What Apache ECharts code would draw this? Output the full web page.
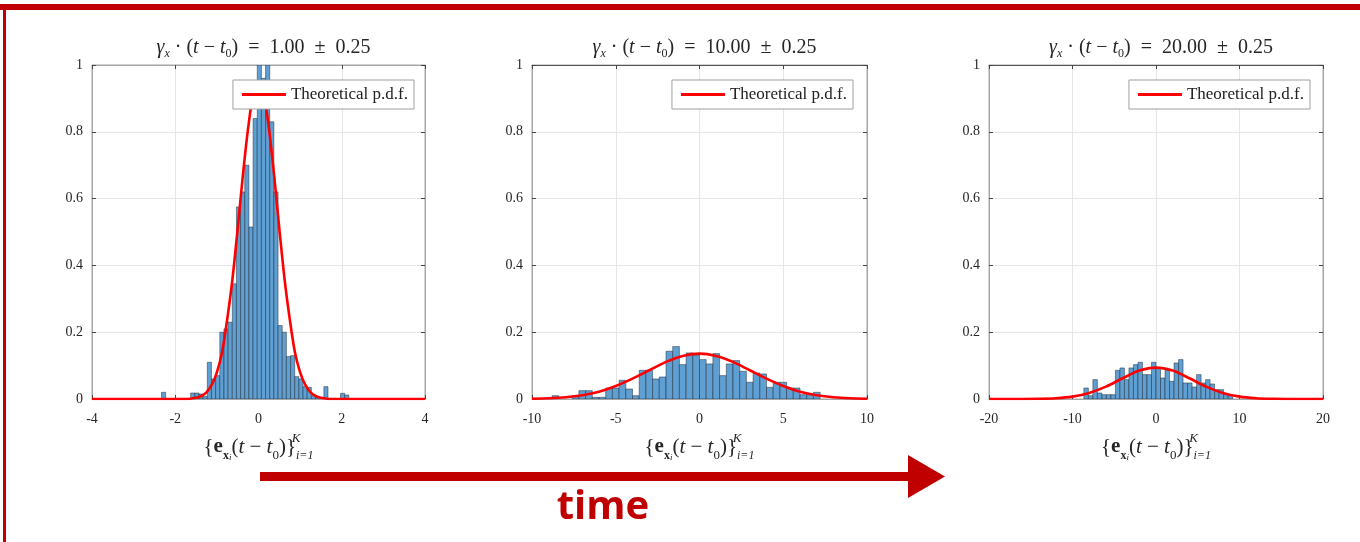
<!DOCTYPE html>
<html>
<head>
<meta charset="utf-8">
<script src="https://cdn.jsdelivr.net/npm/echarts@6/dist/echarts.min.js"></script>
<style>
html,body{margin:0;padding:0;background:#fff;}
#chart{width:1360px;height:542px;}
</style>
</head>
<body>
<div id="chart"></div>
<script>
// ---------- data ----------
const titleValues = ['1.00', '10.00', '20.00'];
const titleSpread = '0.25';
const legendName = 'Theoretical p.d.f.';

// panel 1 histogram (bin start, bin width, heights)
const hist1Start = -2.33;
const hist1Width = 0.1;
const hist1Heights = [0.02,0,0,0,0,0,0,0.018,0.018,0.015,0.008,0.11,0.06,0.07,0.20,0.21,0.23,0.345,0.575,0.62,0.70,0.515,0.84,1.15,0.96,1.12,0.83,0.62,0.22,0.20,0.127,0.13,0.067,0.06,0.037,0.035,0.01,0.005,0,0.037,0,0,0,0.017,0.012];
// panel 2 histogram
const hist2Start = -8.8;
const hist2Width = 0.4;
const hist2Heights = [0.01,0,0,0.01,0.025,0.025,0.005,0.005,0.033,0.033,0.056,0.03,0.01,0.086,0.086,0.06,0.066,0.143,0.157,0.103,0.138,0.132,0.118,0.105,0.136,0.07,0.105,0.115,0.083,0.05,0.078,0.075,0.035,0.05,0.05,0.033,0.033,0.013,0.013,0.02];
// panel 3 histogram
const hist3Start = -13.5;
const hist3Width = 0.54;
const hist3Heights = [0.003,0,0,0,0,0,0,0,0,0.033,0.01,0.058,0.018,0.013,0.013,0.013,0.086,0.093,0.058,0.093,0.103,0.11,0.073,0.073,0.11,0.093,0.063,0.088,0.053,0.108,0.118,0.048,0.048,0.036,0.073,0.048,0.058,0.045,0.028,0.028,0.015,0.01];

// theoretical p.d.f. curves
const pdf1X = [-4,-2,-1.75,-1.5,-1.375,-1.25,-1.125,-1,-0.875,-0.75,-0.625,-0.5,-0.375,-0.25,-0.125,0,0.125,0.25,0.375,0.5,0.625,0.75,0.875,1,1.125,1.25,1.375,1.5,1.75,2,4];
const pdf1Y = [0,0,0,0.004,0.009,0.02,0.042,0.08,0.14,0.24,0.36,0.51,0.67,0.81,0.914,0.95,0.914,0.81,0.67,0.51,0.36,0.24,0.14,0.08,0.042,0.02,0.009,0.004,0,0,0];
const pdf2X = [-10,-9,-8,-7,-6,-5,-4,-3,-2,-1,0,1,2,3,4,5,6,7,8,9,10];
const pdf2Y = [0.0009,0.0023,0.0054,0.0115,0.022,0.039,0.061,0.086,0.111,0.129,0.136,0.129,0.111,0.086,0.061,0.039,0.022,0.0115,0.0054,0.0023,0.0009];
const pdf3X = [-20,-18,-16,-14,-12,-10,-8,-6,-4,-2,0,2,4,6,8,10,12,14,16,18,20];
const pdf3Y = [0,0,0.0001,0.0006,0.0023,0.0071,0.018,0.037,0.062,0.085,0.094,0.085,0.062,0.037,0.018,0.0071,0.0023,0.0006,0.0001,0,0];

// axes
const xMins = [-4, -10, -20];
const xMaxs = [4, 10, 20];
const xIntervals = [2, 5, 10];
const yMin = 0, yMax = 1, yInterval = 0.2;

// ---------- build ----------
const hists = [
  [hist1Start, hist1Width, hist1Heights],
  [hist2Start, hist2Width, hist2Heights],
  [hist3Start, hist3Width, hist3Heights]
];
const pdfs = [[pdf1X, pdf1Y], [pdf2X, pdf2Y], [pdf3X, pdf3Y]];

const gridLefts = [92, 532, 989];
const gridWidths = [333, 335, 334];
const legendRights = [946, 507, 50];

const serif = 'Liberation Serif';
const textCol = '#262626';

function renderBar(params, api) {
  const x0 = api.value(0), x1 = api.value(1);
  const h = Math.min(api.value(2), yMax);
  if (h <= 0) return null;
  const p0 = api.coord([x0, h]);
  const p1 = api.coord([x1, 0]);
  return {
    type: 'rect',
    shape: {x: p0[0], y: p0[1], width: p1[0] - p0[0], height: p1[1] - p0[1]},
    style: {fill: '#5f9fd2', stroke: 'rgba(20,30,40,0.75)', lineWidth: 0.6}
  };
}

const grids = [], xAxes = [], yAxes = [], series = [], titles = [], legends = [];
const tf = {fontFamily: serif, color: textCol, fontWeight: 'normal'};
const titleRich = {
  n: Object.assign({fontSize: 20, lineHeight: 24}, tf),
  i: Object.assign({fontSize: 20, fontStyle: 'italic', lineHeight: 24}, tf),
  si: Object.assign({fontSize: 12, fontStyle: 'italic', lineHeight: 15, verticalAlign: 'bottom'}, tf),
  s: Object.assign({fontSize: 12, lineHeight: 15, verticalAlign: 'bottom'}, tf)
};
const nameRich = {
  n: Object.assign({fontSize: 21, lineHeight: 30}, tf),
  i: Object.assign({fontSize: 21, fontStyle: 'italic', lineHeight: 30}, tf),
  b: {fontFamily: serif, color: textCol, fontSize: 21, fontWeight: 'bold', lineHeight: 30},
  sb: {fontFamily: serif, color: textCol, fontSize: 12, fontWeight: 'bold', lineHeight: 20, verticalAlign: 'bottom'},
  ss: Object.assign({fontSize: 9, fontStyle: 'italic', lineHeight: 15, verticalAlign: 'bottom'}, tf),
  s: Object.assign({fontSize: 13, lineHeight: 20, verticalAlign: 'bottom'}, tf),
  sup: Object.assign({fontSize: 13, fontStyle: 'italic', lineHeight: 16, verticalAlign: 'top', width: 0}, tf),
  low: Object.assign({fontSize: 12, fontStyle: 'italic', lineHeight: 14, verticalAlign: 'bottom'}, tf)
};

const tickStyle = {show: true, inside: true, length: 4, lineStyle: {color: '#444'}};
for (let k = 0; k < 3; k++) {
  grids.push({left: gridLefts[k], top: 65, width: gridWidths[k], height: 334,
    show: true, borderColor: '#a6a6a6', borderWidth: 1});
  xAxes.push({
    type: 'value', gridIndex: k, min: xMins[k], max: xMaxs[k], interval: xIntervals[k],
    axisLine: {show: true, onZero: false, lineStyle: {color: '#a6a6a6'}},
    axisTick: tickStyle,
    splitLine: {show: true, lineStyle: {color: '#e6e6e6'}},
    axisLabel: {fontFamily: serif, fontSize: 14, color: textCol, margin: 13},
    name: '{n|{}{b|e}{sb|x}{ss|i}{n|(}{i|t}{n| − }{i|t}{s|0}{n|)}}{sup|K}{low|i=1}',
    nameLocation: 'middle', nameGap: 33,
    nameTextStyle: Object.assign({fontSize: 21, rich: nameRich}, tf)
  });
  yAxes.push({
    type: 'value', gridIndex: k, min: yMin, max: yMax, interval: yInterval,
    axisLine: {show: true, onZero: false, lineStyle: {color: '#a6a6a6'}},
    axisTick: tickStyle,
    splitLine: {show: true, lineStyle: {color: '#e6e6e6'}},
    axisLabel: {fontFamily: serif, fontSize: 14, color: textCol, margin: 9}
  });
  const [start, width, heights] = hists[k];
  series.push({
    type: 'custom', name: 'hist' + k, xAxisIndex: k, yAxisIndex: k,
    renderItem: renderBar, clip: true,
    encode: {x: [0, 1], y: 2},
    data: heights.map((h, j) => [start + j * width, start + (j + 1) * width, h]),
    z: 2, silent: true
  });
  const [px, py] = pdfs[k];
  series.push({
    type: 'line', name: legendName, xAxisIndex: k, yAxisIndex: k,
    data: px.map((x, j) => [x, py[j]]),
    smooth: 0.3, showSymbol: false, symbol: 'none',
    lineStyle: {color: '#ff0000', width: 2.6}, itemStyle: {color: '#ff0000'},
    z: 3, silent: true
  });
  titles.push({
    text: '{i|γ}{si|x}{n| · (}{i|t}{n| − }{i|t}{s|0}{n|)  =  ' + titleValues[k] + '  ±  ' + titleSpread + '}',
    left: gridLefts[k] + gridWidths[k] / 2, top: 31, textAlign: 'center',
    textStyle: Object.assign({fontSize: 20, rich: titleRich}, tf)
  });
  legends.push({
    data: [legendName], right: legendRights[k], top: 80, orient: 'horizontal',
    icon: 'rect', itemWidth: 44, itemHeight: 3, itemGap: 5,
    padding: [6, 6, 6, 9], borderColor: '#a0a0a0', borderWidth: 1, backgroundColor: '#fff',
    textStyle: {fontFamily: serif, fontSize: 17, color: '#222'},
    selectedMode: false
  });
}
// box ticks on the top and right sides of every panel
for (let k = 0; k < 3; k++) {
  xAxes.push({
    type: 'value', gridIndex: k, position: 'top', min: xMins[k], max: xMaxs[k], interval: xIntervals[k],
    axisLine: {show: true, onZero: false, lineStyle: {color: k === 0 ? '#a6a6a6' : '#555'}},
    axisTick: tickStyle, axisLabel: {show: false}, splitLine: {show: false}
  });
  yAxes.push({
    type: 'value', gridIndex: k, position: 'right', min: yMin, max: yMax, interval: yInterval,
    axisLine: {show: true, onZero: false, lineStyle: {color: '#a6a6a6'}},
    axisTick: tickStyle, axisLabel: {show: false}, splitLine: {show: false}
  });
}

const red = '#c00000';
const chart = echarts.init(document.getElementById('chart'));
chart.setOption({
  animation: false,
  backgroundColor: '#fff',
  title: titles,
  legend: legends,
  grid: grids,
  xAxis: xAxes,
  yAxis: yAxes,
  series: series,
  graphic: [
    {type: 'rect', shape: {x: 0, y: 4, width: 1360, height: 6}, style: {fill: red}, z: 10},
    {type: 'rect', shape: {x: 3, y: 4, width: 3, height: 538}, style: {fill: red}, z: 10},
    {type: 'rect', shape: {x: 260, y: 472, width: 652, height: 9}, style: {fill: red}, z: 10},
    {type: 'polygon', shape: {points: [[908, 455], [945, 476.5], [908, 498]]}, style: {fill: red}, z: 10},
    {type: 'text', x: 603, y: 508, style: {text: 'time', fill: red, font: 'bold 40px "Open Sans"', textAlign: 'center', textVerticalAlign: 'middle'}, z: 10}
  ]
});
</script>
</body>
</html>
